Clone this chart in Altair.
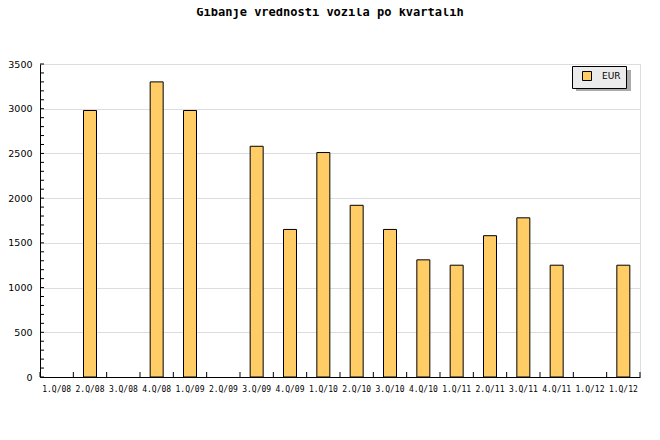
import altair as alt
import pandas as pd

quarters = ["1.Q/08", "2.Q/08", "3.Q/08", "4.Q/08", "1.Q/09", "2.Q/09", "3.Q/09", "4.Q/09",
            "1.Q/10", "2.Q/10", "3.Q/10", "4.Q/10", "1.Q/11", "2.Q/11", "3.Q/11", "4.Q/11",
            "1.Q/12", "1.Q/12 "]
eur = [0, 2980, 0, 3300, 2980, 0, 2580, 1650,
       2510, 1920, 1650, 1310, 1250, 1580, 1780, 1250,
       0, 1250]
series = "EUR"
y_ticks_major = list(range(0, 3501, 500))
y_ticks_minor = list(range(0, 3501, 100))

W, H = 600, 313

df = pd.DataFrame({"q": quarters, "v": eur, "s": [series] * len(quarters)})
ticks_df = pd.DataFrame({"t": y_ticks_minor})

x_scale = alt.Scale(domain=quarters, paddingInner=0, paddingOuter=0)
y_scale = alt.Scale(domain=[0, 3500], nice=False)

bars = alt.Chart(df).transform_filter("datum.v > 0").mark_bar(
    stroke="black", strokeWidth=1, width=13
).encode(
    x=alt.X("q:N", sort=quarters, scale=x_scale,
            axis=alt.Axis(title=None, labelAngle=0, ticks=False, domain=True, domainColor="black",
                          labelFont="DejaVu Sans Mono", labelFontSize=8, labelColor="black",
                          labelPadding=8, labelExpr="trim(datum.label)", grid=False)),
    y=alt.Y("v:Q", scale=y_scale,
            axis=alt.Axis(title=None, values=y_ticks_major, format="d", ticks=False, domain=True,
                          domainColor="black", grid=True, gridColor="#dddddd",
                          labelFont="DejaVu Sans", labelFontSize=9.5,
                          labelColor="black", labelPadding=8)),
    color=alt.Color("s:N", scale=alt.Scale(range=["#FFCC66"]),
                    legend=alt.Legend(title=None, orient="none", legendX=532, legendY=2,
                                      fillColor="#ebebeb", strokeColor="black", padding=5,
                                      symbolType="square", symbolSize=81, symbolStrokeColor="black",
                                      symbolStrokeWidth=1, symbolOpacity=1, symbolOffset=5,
                                      labelFont="DejaVu Sans", labelFontSize=9, labelColor="black",
                                      labelOffset=10)),
)

shadow = alt.Chart(pd.DataFrame({"a": [0]})).mark_rect(color="#aaaaaa").encode(
    x=alt.value(536), x2=alt.value(591), y=alt.value(6), y2=alt.value(27)
)

xticks = alt.Chart(df).mark_rule(color="black").encode(
    x=alt.X("q:N", sort=quarters, scale=x_scale, bandPosition=0),
    y=alt.value(H - 5), y2=alt.value(H),
)
xtick_end = alt.Chart(pd.DataFrame({"a": [0]})).mark_rule(color="black").encode(
    x=alt.value(W), y=alt.value(H - 5), y2=alt.value(H)
)
yticks = alt.Chart(ticks_df).mark_rule(color="black").encode(
    y=alt.Y("t:Q", scale=y_scale), x=alt.value(0), x2=alt.value(4)
)

chart = alt.layer(shadow, bars, xticks, xtick_end, yticks).properties(
    width=W, height=H,
    autosize=alt.AutoSizeParams(type="none"),
    padding={"left": 32, "top": 56, "right": 12, "bottom": 55},
    title=alt.TitleParams("Gibanje vrednosti vozila po kvartalih", font="DejaVu Sans Mono",
                          fontWeight="bold", fontSize=12, anchor="middle", offset=40, dx=-10,
                          color="black"),
).configure_view(stroke=None).configure(background="white")

chart.save("out.html", embed_options={"renderer": "svg", "actions": False})
